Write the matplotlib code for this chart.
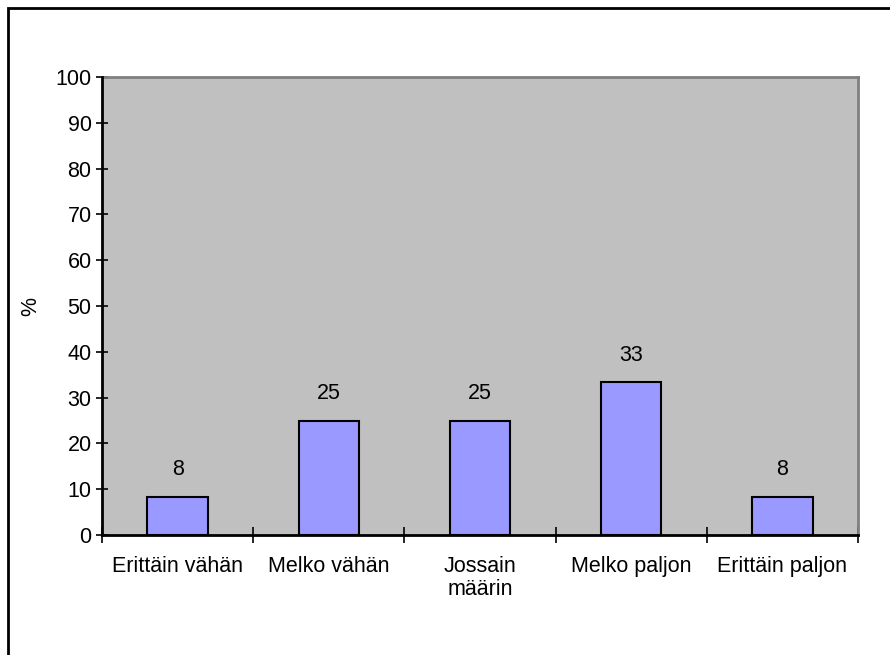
import matplotlib
matplotlib.use("Agg")
import matplotlib.pyplot as plt
from matplotlib.patches import Rectangle

categories = ["Erittäin vähän", "Melko vähän", "Jossain\nmäärin", "Melko paljon", "Erittäin paljon"]
values = [8.33, 25.0, 25.0, 33.33, 8.33]
yticks = [0, 10, 20, 30, 40, 50, 60, 70, 80, 90, 100]

plt.rcParams['font.family'] = ['Liberation Sans', 'DejaVu Sans']
FS = 15.5

W, H = 890, 655
fig = plt.figure(figsize=(W / 100, H / 100), dpi=100)
# outer frame (only left and top visible)
fig.patches.append(Rectangle((8 / W, -0.1), 1.2, (H - 8) / H + 0.1, transform=fig.transFigure,
                             fill=False, edgecolor='black', linewidth=2))

left, right, top, bottom = 102, 858, 77, 535
ax = fig.add_axes([left / W, 1 - bottom / H, (right - left) / W, (bottom - top) / H])
ax.set_facecolor('#C0C0C0')

x = list(range(len(categories)))
ax.bar(x, values, width=0.4, color='#9999FF', edgecolor='black', linewidth=1.5, zorder=3)
for xi, v in zip(x, values):
    ax.annotate(f"{round(v):d}", (xi, v), xytext=(0, 12), textcoords='offset points',
                ha='center', va='bottom', fontsize=FS, zorder=4)

ax.set_xlim(-0.5, len(categories) - 0.5)
ax.set_ylim(0, 100)
ax.set_yticks(yticks)
ax.set_yticklabels([str(t) for t in yticks], fontsize=FS)
ax.set_xticks(x)
ax.set_xticklabels(categories, fontsize=FS, linespacing=1.15)
ax.tick_params(axis='x', length=0, pad=15)
ax.set_xticks([i + 0.5 for i in range(-1, len(categories))], minor=True)
ax.tick_params(axis='x', which='minor', direction='inout', length=11, width=1.2, color='black')
ax.tick_params(axis='y', direction='inout', length=9, width=1.2, pad=3)

for s in ['top', 'right']:
    ax.spines[s].set_color('#808080')
    ax.spines[s].set_linewidth(2)
for s in ['left', 'bottom']:
    ax.spines[s].set_color('black')
    ax.spines[s].set_linewidth(2)
    ax.spines[s].set_zorder(5)

ax.set_ylabel('%', fontsize=FS, labelpad=10)

fig.savefig('out.png', dpi=100)
